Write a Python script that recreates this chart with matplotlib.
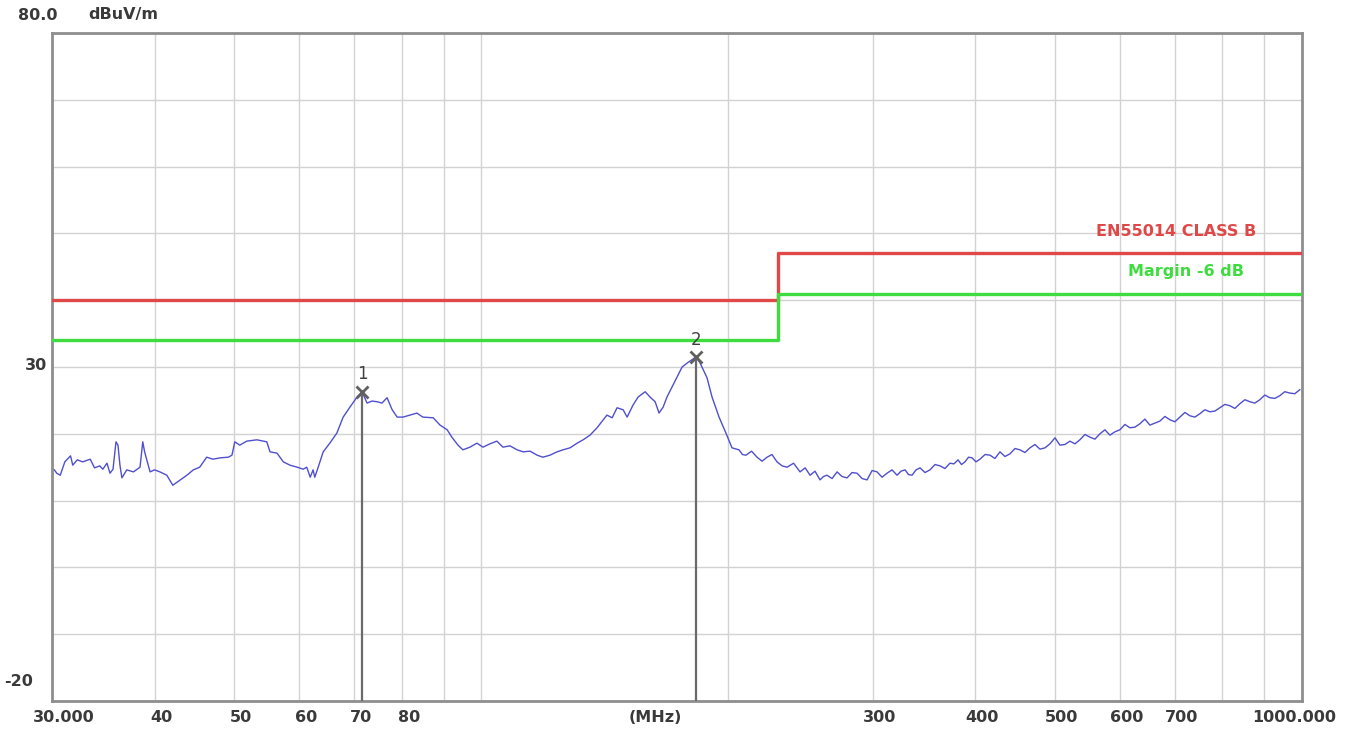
import numpy as np
import matplotlib
matplotlib.use("Agg")
import matplotlib.pyplot as plt
from matplotlib import transforms
from matplotlib.ticker import NullLocator

# ---- measured radiated emission trace (MHz, dBuV/m) ----
freq_mhz = [
    30.2, 30.4, 30.7, 31.1, 31.6, 31.8, 32.2, 32.7, 33.4, 33.8, 34.3, 34.6, 35.0, 35.3,
    35.6, 35.9, 36.1, 36.3, 36.5, 37.0, 37.7, 38.4, 38.7, 38.9, 39.2, 39.5, 40.0, 40.6,
    41.4, 42.1, 43.0, 43.8, 44.6, 45.4, 46.3, 47.1, 48.1, 49.2, 49.7, 50.1, 50.8, 51.8,
    53.3, 54.8, 55.3, 56.4, 57.4, 58.5, 59.7, 60.7, 61.3, 61.9, 62.4, 62.7, 63.3, 64.2,
    65.4, 66.7, 67.9, 69.2, 70.6, 71.6, 72.6, 73.6, 74.7, 75.7, 76.8, 77.9, 79.0, 80.3,
    81.9, 83.5, 84.9, 87.4, 89.1, 90.9, 92.1, 93.7, 95.0, 96.9, 98.8, 100.5, 102.5,
    104.5, 106.3, 108.4, 110.6, 112.5, 114.7, 117.0, 118.9, 121.3, 123.7, 125.8, 128.3,
    130.9, 133.1, 135.7, 138.4, 142.3, 144.4, 146.4, 148.9, 150.6, 153.1, 155.3, 158.4,
    160.6, 162.9, 164.7, 166.6, 168.4, 171.3, 175.7, 178.7, 182.7, 184.8, 188.4, 191.1,
    194.9, 198.7, 202.1, 206.1, 208.1, 210.2, 213.5, 216.8, 219.9, 223.0, 226.1, 229.3,
    232.6, 235.9, 240.2, 244.6, 248.1, 251.6, 255.1, 258.7, 261.2, 263.8, 267.6, 271.4,
    275.2, 279.1, 283.0, 287.0, 291.1, 295.2, 299.4, 303.6, 307.9, 312.2, 316.6, 321.1,
    324.7, 328.4, 331.6, 334.9, 338.7, 342.5, 347.3, 352.2, 357.2, 362.2, 367.3, 372.5,
    376.7, 381.0, 384.7, 388.5, 392.4, 396.3, 400.7, 405.2, 411.0, 416.8, 422.6, 428.6,
    434.6, 440.8, 447.0, 453.3, 459.7, 466.2, 472.8, 479.5, 486.3, 493.1, 500.1, 507.1,
    514.3, 521.5, 528.9, 536.3, 543.9, 551.6, 559.4, 567.3, 575.3, 583.4, 591.7, 600.0,
    608.5, 617.1, 625.8, 634.6, 643.6, 652.7, 661.9, 671.2, 680.7, 690.3, 700.1, 710.0,
    720.0, 730.1, 740.5, 750.8, 761.5, 772.2, 783.2, 794.2, 805.4, 816.8, 828.4, 840.0,
    851.9, 863.9, 876.1, 888.4, 901.0, 913.6, 926.6, 939.6, 952.9, 966.4, 980.0, 993.8,
]
level_dbuv = [
    14.6, 14.1, 13.8, 15.8, 16.7, 15.3, 16.1, 15.8, 16.2, 14.9, 15.2, 14.7, 15.6, 14.1,
    14.7, 18.8, 18.3, 15.3, 13.4, 14.6, 14.3, 15.0, 18.8, 17.3, 15.8, 14.3, 14.6, 14.3,
    13.8, 12.3, 13.1, 13.8, 14.6, 15.0, 16.5, 16.2, 16.4, 16.5, 16.8, 18.8, 18.3, 18.9,
    19.1, 18.8, 17.3, 17.1, 15.8, 15.3, 15.0, 14.7, 15.0, 13.5, 14.6, 13.5, 15.0, 17.3,
    18.6, 20.1, 22.5, 24.0, 25.5, 26.3, 24.6, 24.9, 24.8, 24.6, 25.4, 23.6, 22.5, 22.5,
    22.8, 23.1, 22.5, 22.4, 21.3, 20.6, 19.5, 18.3, 17.6, 18.0, 18.6, 18.0, 18.5,
    18.9, 18.0, 18.2, 17.6, 17.3, 17.4, 16.8, 16.5, 16.8, 17.3, 17.6, 17.9,
    18.6, 19.1, 19.8, 20.9, 22.8, 22.4, 23.9, 23.6, 22.5, 24.3, 25.5, 26.3,
    25.5, 24.8, 23.1, 24.0, 25.5, 27.3, 30.0, 30.7, 31.5, 30.6, 28.4, 25.5,
    22.5, 20.1, 17.9, 17.6, 16.9, 16.8, 17.4, 16.5, 15.9, 16.5, 16.9, 15.8,
    15.2, 15.0, 15.6, 14.3, 14.9, 13.8, 14.4, 13.1, 13.6, 13.8, 13.3, 14.3,
    13.6, 13.4, 14.2, 14.1, 13.3, 13.1, 14.5, 14.3, 13.5, 14.1, 14.6, 13.8,
    14.4, 14.6, 13.9, 13.8, 14.6, 14.9, 14.2, 14.6, 15.4, 15.2, 14.8, 15.6,
    15.5, 16.1, 15.4, 15.8, 16.5, 16.4, 15.8, 16.2, 16.9, 16.8, 16.3, 17.3,
    16.6, 17.0, 17.8, 17.6, 17.2, 17.9, 18.4, 17.7, 17.9, 18.5, 19.4, 18.3,
    18.4, 18.9, 18.5, 19.1, 19.9, 19.5, 19.2, 20.0, 20.6, 19.8, 20.3, 20.6,
    21.4, 20.9, 21.0, 21.5, 22.2, 21.3, 21.6, 21.9, 22.6, 22.1, 21.8, 22.5,
    23.2, 22.7, 22.5, 23.0, 23.6, 23.3, 23.4, 23.9, 24.4, 24.2, 23.8, 24.5,
    25.1, 24.8, 24.6, 25.1, 25.8, 25.4, 25.3, 25.7, 26.3, 26.1, 26.0, 26.6,
]

# ---- EN55014 class B limit and -6 dB margin ----
limit_freq = [30, 230, 230, 1000]
limit_level = [40, 40, 47, 47]
margin_db = 6
margin_level = [v - margin_db for v in limit_level]

# ---- peak markers ----
marker_ids = ["1", "2"]
marker_freq = [71.6, 182.7]
marker_level = [26.3, 31.5]

# ---- axis ticks ----
grid_freqs = [40, 50, 60, 70, 80, 90, 100, 200, 300, 400, 500, 600, 700, 800, 900]
xtick_freqs = [40, 50, 60, 70, 80, 300, 400, 500, 600, 700]
xtick_labels = ["40", "50", "60", "70", "80", "300", "400", "500", "600", "700"]
y_min, y_max = -20, 80

W, H = 1357, 733
fig = plt.figure(figsize=(W / 100, H / 100), dpi=100)
fig.patch.set_facecolor("white")

# plot area in pixels: left 52, right 1302, top 33, bottom 701
ax = fig.add_axes([52 / W, (H - 701) / H, 1250 / W, 668 / H])
ax.set_xscale("log")
ax.set_xlim(30, 1000)
ax.set_ylim(y_min, y_max)
ax.set_facecolor("white")

ax.set_xticks(grid_freqs)
ax.xaxis.set_minor_locator(NullLocator())
ax.set_yticks(np.arange(y_min, y_max + 1, 10))
ax.tick_params(length=0, labelbottom=False, labelleft=False)
ax.grid(True, color="#d2d2d2", lw=1.0)
ax.set_axisbelow(True)
for sp in ax.spines.values():
    sp.set_color("#8e8e8e")
    sp.set_linewidth(2.0)

# limit lines
ax.plot(limit_freq, limit_level, color="#e04848", lw=2.4, zorder=3)
ax.plot(limit_freq, margin_level, color="#3fdc3f", lw=2.4, zorder=3)

# emission trace
ax.plot(freq_mhz, level_dbuv, color="#4f4fcf", lw=1.0, zorder=4)

# markers with drop lines
for mid, mf, ml in zip(marker_ids, marker_freq, marker_level):
    ax.plot([mf, mf], [y_min, ml], color="#6a6a6a", lw=1.6, zorder=5)
    ax.plot([mf], [ml], marker="x", ms=9, mew=2.0, color="#606060", zorder=6)
    ax.annotate(mid, (mf, ml), xytext=(0, 6), textcoords="offset points",
                ha="center", va="bottom", fontsize=12, color="#404040")

# limit labels
ax.text(880, limit_level[-1] + 2.2, "EN55014 CLASS B", ha="right", va="bottom",
        fontsize=11.5, color="#e04848", fontweight="bold")
ax.text(850, margin_level[-1] + 2.2, "Margin -6 dB", ha="right", va="bottom",
        fontsize=11.5, color="#3fdc3f", fontweight="bold")

# x tick labels below the frame
txt_kw = dict(fontsize=11.5, color="#3a3a3a", va="center", fontweight="bold")
bx = transforms.blended_transform_factory(ax.transData, ax.transAxes)
for f, lab in zip(xtick_freqs, xtick_labels):
    tr = transforms.offset_copy(bx, fig=fig, x=7, y=-17, units="dots")
    ax.text(f, 0, lab, transform=tr, ha="center", **txt_kw)
tr = transforms.offset_copy(bx, fig=fig, x=12, y=-17, units="dots")
ax.text(30, 0, "30.000", transform=tr, ha="center", **txt_kw)
tr = transforms.offset_copy(bx, fig=fig, x=-8, y=-17, units="dots")
ax.text(1000, 0, "1000.000", transform=tr, ha="center", **txt_kw)
fig.text(655 / W, 1 - 717 / H, "(MHz)", ha="center", **txt_kw)

# y labels
fig.text(38 / W, 1 - 15 / H, "80.0", ha="center", **txt_kw)
fig.text(88 / W, 1 - 15 / H, "dBuV/m", ha="left", **txt_kw)
by = transforms.blended_transform_factory(ax.transAxes, ax.transData)
tr = transforms.offset_copy(by, fig=fig, x=-5, y=2, units="dots")
ax.text(0, 30, "30", transform=tr, ha="right", **txt_kw)
fig.text(33 / W, 1 - 682 / H, "-20", ha="right", **txt_kw)

fig.savefig("out.png", dpi=100)
